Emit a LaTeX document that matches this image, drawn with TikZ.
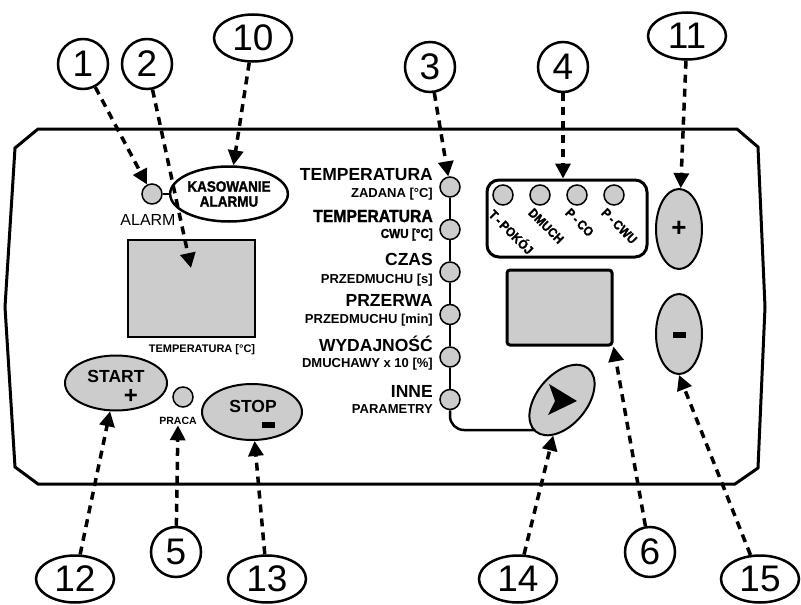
\documentclass[tikz,border=0pt]{standalone}
\usepackage{fontspec}
\setmainfont{Liberation Sans}
\newfontfamily\heavyfont{Liberation Sans}[BoldFeatures={FakeBold=1.5},FakeStretch=0.9]
\usetikzlibrary{arrows.meta,shapes.geometric,calc}
\definecolor{panelgray}{RGB}{204,204,204}
\newcommand{\pxfont}[1]{\fontsize{#1}{#1}\selectfont}

\tikzset{
  num/.style={circle,draw,line width=2.5pt,minimum size=50pt,inner sep=0pt,font=\pxfont{37}},
  numwide/.style={num,ellipse,minimum width=78pt,minimum height=47pt},
  led/.style={circle,draw,line width=1.5pt,fill=panelgray,minimum size=20pt,inner sep=0pt},
  btn/.style={ellipse,draw,line width=2pt,fill=panelgray,inner sep=0pt},
  screen/.style={rectangle,draw,fill=panelgray,inner sep=0pt},
  wire/.style={line width=2.5pt},
  pointer/.style={line width=3.5pt,dash pattern=on 8pt off 6pt,-{Triangle[length=15pt,width=15pt]}},
  toplbl/.style={anchor=base east,inner sep=0pt,font=\bfseries\pxfont{17.5}},
  sublbl/.style={anchor=base east,inner sep=0pt,font=\bfseries\pxfont{13}},
  boxlbl/.style={anchor=north west,rotate=-45,inner sep=0pt,font=\heavyfont\bfseries\pxfont{13}},
}

\begin{document}
\begin{tikzpicture}[x=1pt,y=-1pt]
\useasboundingbox (0,0) rectangle (801,605);

% panel outline
\draw[line width=3pt] (38,129) -- (737,129) -- (758,147) -- (765,307) -- (758,468) -- (735,484)
  -- (38,484) -- (15,467) -- (5,307) -- (15,148) -- cycle;

% alarm part
\node[led] (alarmled) at (152,194) {};
\node[anchor=base,inner sep=1pt,font=\pxfont{16}] (alarmtxt) at (148,225) {ALARM};
\node[ellipse,draw,fill=white,line width=2.5pt,minimum width=102pt,minimum height=55pt,inner sep=0pt,
  align=center,font=\heavyfont\bfseries\pxfont{15}] (reset) at (229,194) {KASOWANIE\\ALARMU};
\draw[wire] (alarmled) -- (reset);

% temperature display
\node[screen,line width=2pt,minimum width=127pt,minimum height=97pt] (tempdisp) at (191.5,288.5) {};
\node[anchor=base,inner sep=0pt,font=\bfseries\pxfont{11}] (templbl) at (202,352) {TEMPERATURA [°C]};
\coordinate (tip2) at (191,268);

% start / stop
\node[btn,minimum width=102pt,minimum height=55pt] (startbtn) at (116,383) {};
\node[anchor=base,inner sep=0pt,font=\bfseries\pxfont{17.5}] (starttxt) at (116,382) {START};
\node[inner sep=0pt,font=\bfseries\pxfont{24}] (startplus) at (131,396) {+};
\node[led] (pracaled) at (183,397) {};
\node[anchor=base,inner sep=1pt,font=\bfseries\pxfont{10.5}] (pracatxt) at (178,424) {PRACA};
\node[btn,minimum width=100pt,minimum height=56pt] (stopbtn) at (252,412) {};
\node[anchor=base,inner sep=0pt,font=\bfseries\pxfont{17.5}] (stoptxt) at (253,412) {STOP};
\node[fill,minimum width=13pt,minimum height=6pt,inner sep=0pt] (stopminus) at (268,425) {};

% parameter column
\node[toplbl] (t1a) at (433,180) {TEMPERATURA};
\node[sublbl] (t1b) at (433,197) {ZADANA [°C]};
\node[toplbl,font=\heavyfont\bfseries\pxfont{17.5}] (t2a) at (433,222) {TEMPERATURA};
\node[sublbl,font=\heavyfont\bfseries\pxfont{13}] (t2b) at (433,238) {CWU [°C]};
\node[toplbl] (t3a) at (433,265) {CZAS};
\node[sublbl] (t3b) at (433,283) {PRZEDMUCHU [s]};
\node[toplbl] (t4a) at (433,306) {PRZERWA};
\node[sublbl] (t4b) at (433,323) {PRZEDMUCHU [min]};
\node[toplbl] (t5a) at (433,351) {WYDAJNOŚĆ};
\node[sublbl] (t5b) at (433,367) {DMUCHAWY x 10 [\%]};
\node[toplbl] (t6a) at (433,397) {INNE};
\node[sublbl] (t6b) at (433,413) {PARAMETRY};

\node[led] (led1) at (450,187) {};
\node[led] (led2) at (450,229.5) {};
\node[led] (led3) at (450,272) {};
\node[led] (led4) at (450,314.5) {};
\node[led] (led5) at (450,357) {};
\node[led] (led6) at (450,399.5) {};
\draw[wire] (led1) -- (led2) -- (led3) -- (led4) -- (led5) -- (led6);

% arrow button
\coordinate (btnc) at (562,400);
\draw[wire,rounded corners=14pt] (led6) -- (450,430) -- (548,430) -- (btnc);
\node[btn,minimum width=82pt,minimum height=50pt,rotate=50] (arrowbtn) at (btnc) {};
\fill (577,401) -- (549,384) -- (555,401) -- (548,415) -- cycle;

% blower / pump lamps
\node[draw,line width=3pt,rounded corners=12pt,minimum width=160pt,minimum height=77pt] (ledbox) at (567,218.5) {};
\node[led] (ltp) at (503,195) {};
\node[led] (ldm) at (540,195) {};
\node[led] (lco) at (577,195) {};
\node[led] (lcwu) at (614,195) {};
\node[boxlbl] (ltptxt) at (496,207) {T\,-\,POKÓJ};
\node[boxlbl] (ldmtxt) at (534,207) {DMUCH};
\node[boxlbl] (lcotxt) at (571,207) {P\,-\,CO};
\node[boxlbl] (lcwutxt) at (607,207) {P\,-\,CWU};

% parameter display
\node[screen,line width=3pt,rounded corners=3pt,minimum width=105pt,minimum height=75pt] (paramdisp) at (559.5,307.5) {};

% plus / minus
\node[btn,minimum width=46pt,minimum height=80pt,font=\bfseries\pxfont{26}] (plusbtn) at (679,229) {+};
\node[btn,minimum width=46pt,minimum height=80pt] (minusbtn) at (679,334) {};
\node[fill,minimum width=13pt,minimum height=6pt,inner sep=0pt] (minusbar) at (679,335) {};

% numbers
\node[num] (n1) at (83,64) {1};
\node[num] (n2) at (147,64) {2};
\node[numwide] (n10) at (253,38) {10};
\node[num] (n3) at (430,67) {3};
\node[num] (n4) at (563,67) {4};
\node[numwide] (n11) at (687,36) {11};
\node[numwide] (n12) at (75,579) {12};
\node[num] (n5) at (176,552) {5};
\node[numwide] (n13) at (267,579) {13};
\node[numwide] (n14) at (518,579) {14};
\node[num] (n6) at (650,552) {6};
\node[numwide] (n15) at (760,579) {15};

% pointers
\draw[pointer] (n1) -- (alarmled);
\draw[pointer] (n2) -- (tip2);
\draw[pointer] (n10) -- (reset);
\draw[pointer] (n3) -- (led1);
\draw[pointer] (n4) -- (n4 |- ledbox.north);
\draw[pointer] (n11) -- (plusbtn);
\draw[pointer] (n12) -- (startbtn);
\draw[pointer] (n5) -- (pracatxt);
\draw[pointer] (n13) -- (stopbtn);
\draw[pointer] (n14) -- (arrowbtn);
\draw[pointer] (n6) -- (paramdisp.south east);
\draw[pointer] (n15) -- (minusbtn.south);
\end{tikzpicture}
\end{document}
